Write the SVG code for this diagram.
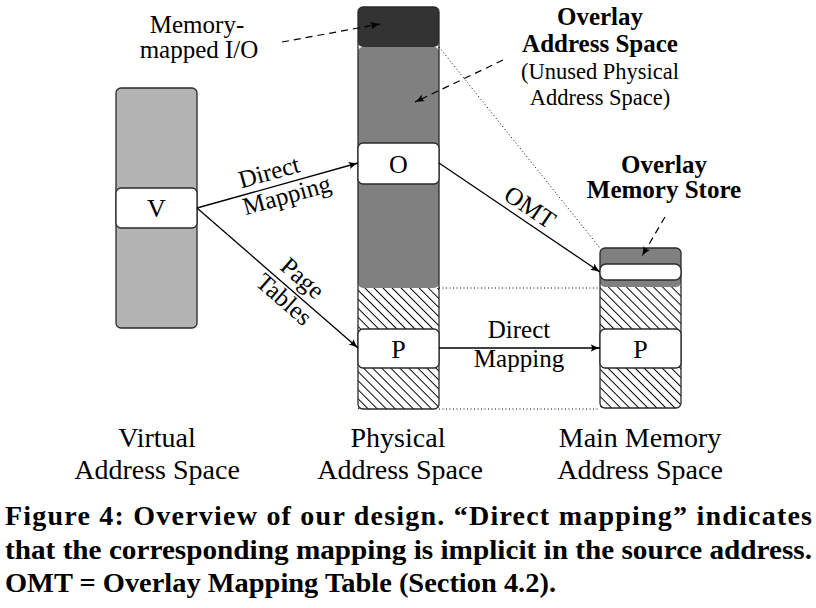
<svg xmlns="http://www.w3.org/2000/svg" width="816" height="608" viewBox="0 0 816 608">
<style>
.lbl{font-size:25px}
.box{font-size:26px}
.bold{font-size:25px;font-weight:bold}
.sub{font-size:22.5px}
.axis{font-size:28px}
.cap{font-size:28px;font-weight:bold}
.outline{fill:none;stroke:#2a2a2a;stroke-width:1.3}
.wbox{fill:#fff;stroke:#2a2a2a;stroke-width:1.3}
.arrow{fill:none;stroke:#000;stroke-width:1.3;marker-end:url(#ah)}
.dash{fill:none;stroke:#000;stroke-width:1.2;stroke-dasharray:7 5;marker-end:url(#ah)}
.dot{fill:none;stroke:#000;stroke-width:1;stroke-dasharray:1 2.5}
</style>
<defs>
<marker id="ah" viewBox="0 0 10 8" refX="9.5" refY="4" markerWidth="10" markerHeight="8" markerUnits="userSpaceOnUse" orient="auto">
<path d="M0,0.3 Q5,3 10,4 Q5,5 0,7.7 Q3,4 0,0.3Z" fill="#000"/>
</marker>
<pattern id="hatch" width="6.4" height="6.4" patternUnits="userSpaceOnUse" patternTransform="rotate(45)">
<rect width="6.4" height="6.4" fill="#fff"/>
<line x1="0" y1="3.2" x2="6.4" y2="3.2" stroke="#000" stroke-width="1"/>
</pattern>
</defs>

<g font-family="Liberation Serif, DejaVu Serif, serif" fill="#000">
<g id="virtual">
<rect x="116" y="88" width="81" height="240" rx="5" fill="#b3b3b3" stroke="#2a2a2a" stroke-width="1.3"/>
<rect x="116" y="188" width="81" height="40" rx="5" class="wbox"/>
<text class="box" x="156.5" y="217" text-anchor="middle">V</text>
</g>

<g id="physical">
<rect x="358" y="288" width="81" height="121" fill="url(#hatch)"/>
<rect x="358" y="47" width="81" height="241" rx="5" fill="#808080"/>
<rect x="358" y="7" width="81" height="40" rx="5" fill="#333333"/>
<rect x="358" y="7" width="81" height="402" rx="5" class="outline"/>
</g>
<g id="node-O">
<rect x="358" y="143" width="81" height="41" rx="5" class="wbox"/>
<text class="box" x="398.5" y="173" text-anchor="middle">O</text>
</g>
<g id="node-P1">
<rect x="358" y="329" width="81" height="39" rx="5" class="wbox"/>
<text class="box" x="398.5" y="358" text-anchor="middle">P</text>
</g>

<g id="mainmem">
<rect x="600" y="287" width="81" height="121" fill="url(#hatch)"/>
<rect x="600" y="248" width="81" height="39" rx="5" fill="#808080"/>
<rect x="600" y="248" width="81" height="160" rx="5" class="outline"/>
</g>
<g id="node-store">
<rect x="600" y="264" width="81" height="16" rx="6" class="wbox"/>
</g>
<g id="node-P2">
<rect x="600" y="329" width="81" height="39" rx="5" class="wbox"/>
<text class="box" x="640.5" y="358" text-anchor="middle">P</text>
</g>

<g id="connectors">
<line class="arrow" x1="197" y1="208" x2="358" y2="163"/>
<line class="arrow" x1="197" y1="208" x2="358" y2="348"/>
<line class="arrow" x1="439" y1="163" x2="600" y2="272"/>
<line class="arrow" x1="439" y1="348" x2="600" y2="348"/>
<line class="dash" x1="282" y1="42" x2="380" y2="24"/>
<line class="dash" x1="503" y1="60" x2="415" y2="102"/>
<line class="dash" x1="665" y1="217" x2="642" y2="256"/>
<line class="dot" x1="439" y1="47" x2="600" y2="248"/>
<line class="dot" x1="439" y1="288" x2="600" y2="288"/>
<line class="dot" x1="439" y1="409" x2="600" y2="409"/>
</g>

<g id="labels">
<g transform="translate(276,186) rotate(-15.6)">
<text class="lbl" x="-3" y="-7" text-anchor="middle">Direct</text>
<text class="lbl" x="8" y="20" text-anchor="middle">Mapping</text>
</g>
<g transform="translate(285,284.5) rotate(41)">
<text class="lbl" x="9" y="-8" text-anchor="middle">Page</text>
<text class="lbl" x="9" y="20" text-anchor="middle">Tables</text>
</g>
<g transform="translate(522,219) rotate(34.1)">
<text class="lbl" x="0" y="-6" text-anchor="middle">OMT</text>
</g>
<text class="lbl" x="519" y="338" text-anchor="middle">Direct</text>
<text class="lbl" x="519" y="367" text-anchor="middle">Mapping</text>

<text class="lbl" x="197" y="33" text-anchor="middle">Memory-</text>
<text class="lbl" x="199" y="58" text-anchor="middle">mapped I/O</text>

<text class="bold" x="600" y="25" text-anchor="middle">Overlay</text>
<text class="bold" x="600" y="52" text-anchor="middle">Address Space</text>
<text class="sub" x="600" y="79" text-anchor="middle">(Unused Physical</text>
<text class="sub" x="600" y="105" text-anchor="middle">Address Space)</text>

<text class="bold" x="664" y="173" text-anchor="middle">Overlay</text>
<text class="bold" x="664" y="198" text-anchor="middle">Memory Store</text>

<text class="axis" x="157" y="447" text-anchor="middle">Virtual</text>
<text class="axis" x="157" y="479" text-anchor="middle">Address Space</text>
<text class="axis" x="398" y="447" text-anchor="middle">Physical</text>
<text class="axis" x="400" y="479" text-anchor="middle">Address Space</text>
<text class="axis" x="640" y="447" text-anchor="middle">Main Memory</text>
<text class="axis" x="640" y="479" text-anchor="middle">Address Space</text>
</g>

<g id="caption">
<text class="cap" x="5" y="525" textLength="807" lengthAdjust="spacing">Figure 4: Overview of our design. “Direct mapping” indicates</text>
<text class="cap" x="5" y="559" textLength="807" lengthAdjust="spacingAndGlyphs">that the corresponding mapping is implicit in the source address.</text>
<text class="cap" x="5" y="592" textLength="551" lengthAdjust="spacingAndGlyphs">OMT = Overlay Mapping Table (Section 4.2).</text>
</g>
</g>
</svg>
